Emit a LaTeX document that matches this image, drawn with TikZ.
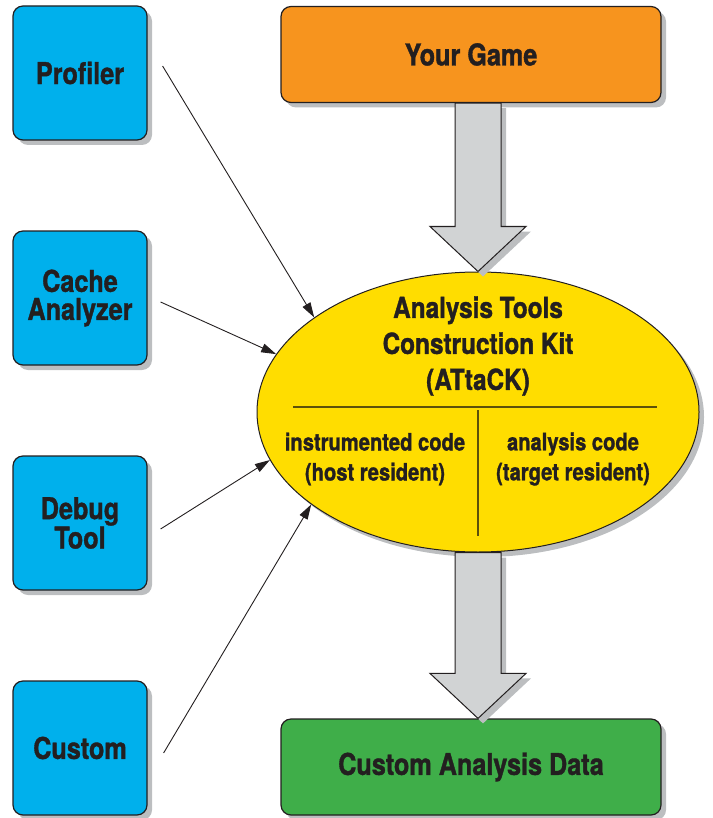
\documentclass[tikz,border=0pt]{standalone}
\usepackage{fontspec}
\setmainfont{TeX Gyre Heros}[FakeStretch=0.84, BoldFeatures={FakeBold=1.2}]
\usetikzlibrary{shapes.geometric, arrows.meta, shadows}

\definecolor{toolblue}{RGB}{0,176,236}
\definecolor{gameorange}{RGB}{247,148,30}
\definecolor{kityellow}{RGB}{255,221,0}
\definecolor{datagreen}{RGB}{63,174,73}
\definecolor{arrowgray}{RGB}{209,211,212}
\definecolor{shadowgray}{RGB}{188,190,192}
\definecolor{inkdark}{RGB}{35,31,32}
\definecolor{kitline}{RGB}{92,80,10}

\tikzstyle{tool} = [rectangle, rounded corners=10pt, minimum width=134pt, minimum height=134pt, text centered, align=center, draw=inkdark, line width=1.2pt, fill=toolblue, text=inkdark, font=\bfseries\fontsize{30}{28}\selectfont, drop shadow={shadow xshift=5pt, shadow yshift=-5pt, opacity=1, fill=shadowgray}]
\tikzstyle{stage} = [rectangle, rounded corners=10pt, minimum width=380pt, minimum height=96pt, text centered, draw=inkdark, line width=1.2pt, text=inkdark, font=\bfseries\fontsize{30}{28}\selectfont, drop shadow={shadow xshift=5pt, shadow yshift=-5pt, opacity=1, fill=shadowgray}]
\tikzstyle{bigarrow} = [draw=inkdark, line width=1pt, fill=arrowgray, drop shadow={shadow xshift=5pt, shadow yshift=-5pt, opacity=1, fill=shadowgray}]
\tikzstyle{feed} = [-{Triangle[length=15pt,width=9pt]}, line width=0.9pt, draw=inkdark]

\begin{document}
\begin{tikzpicture}[x=1pt, y=-1pt, node distance=225pt]
        \useasboundingbox (0,0) rectangle (712,818);

        \node[tool] (profiler) at (80,73) {Profiler};
        \node[tool, below of=profiler] (cache) {Cache\\Analyzer};
        \node[tool, below of=cache] (debug) {Debug\\Tool};
        \node[tool, below of=debug] (custom) {Custom};

        \node[stage, fill=gameorange] (game) at (471,54.5) {Your Game};
        \node[stage, fill=datagreen, below of=game, node distance=712.5pt] (data) {Custom Analysis Data};

        \node[ellipse, draw=inkdark, line width=1pt, fill=kityellow, minimum width=442pt, minimum height=280pt, inner sep=0pt, drop shadow={shadow xshift=5pt, shadow yshift=-5pt, opacity=1, fill=shadowgray}] (kit) at (478,412) {};
        \draw[kitline, line width=1.2pt] ([xshift=-185pt,yshift=5pt]kit.center) -- ([xshift=179pt,yshift=5pt]kit.center);
        \draw[kitline, line width=1.2pt] ([yshift=2pt]kit.center) -- ([yshift=-124pt]kit.center);
        \node[align=center, text=inkdark, font=\bfseries\fontsize{29}{36}\selectfont] (kittitle) at ([yshift=66pt]kit.center) {Analysis Tools\\Construction Kit\\(ATtaCK)};
        \node[align=center, text=inkdark, font=\bfseries\fontsize{24}{30}\selectfont] (host) at ([xshift=-103pt,yshift=-47pt]kit.center) {instrumented code\\(host resident)};
        \node[align=center, text=inkdark, font=\bfseries\fontsize{24}{30}\selectfont] (target) at ([xshift=95pt,yshift=-47pt]kit.center) {analysis code\\(target resident)};

        % wide gray arrows
        \coordinate (gamebottom) at (game.south -| kit.north);
        \coordinate (datatop) at (data.north -| kit.south);
        \draw[bigarrow] ([xshift=-23pt]gamebottom) -- ([xshift=-23pt,yshift=45pt]kit.north) -- ([xshift=-48pt,yshift=45pt]kit.north) -- (kit.north) -- ([xshift=48pt,yshift=45pt]kit.north) -- ([xshift=23pt,yshift=45pt]kit.north) -- ([xshift=23pt]gamebottom) -- cycle;
        \draw[bigarrow] ([xshift=-23pt]kit.south) -- ([xshift=-23pt,yshift=45pt]datatop) -- ([xshift=-48pt,yshift=45pt]datatop) -- (datatop) -- ([xshift=48pt,yshift=45pt]datatop) -- ([xshift=23pt,yshift=45pt]datatop) -- ([xshift=23pt]kit.south) -- cycle;

        \draw[feed] ([xshift=15pt,yshift=7pt]profiler.east) -- (kit.150);
        \draw[feed] ([xshift=13pt,yshift=-4pt]cache.east) -- (kit.164);
        \draw[feed] ([xshift=13pt,yshift=-6pt]debug.east) -- (kit.193);
        \draw[feed] ([xshift=16pt,yshift=-5pt]custom.east) -- (kit.209);
    \end{tikzpicture}
\end{document}
